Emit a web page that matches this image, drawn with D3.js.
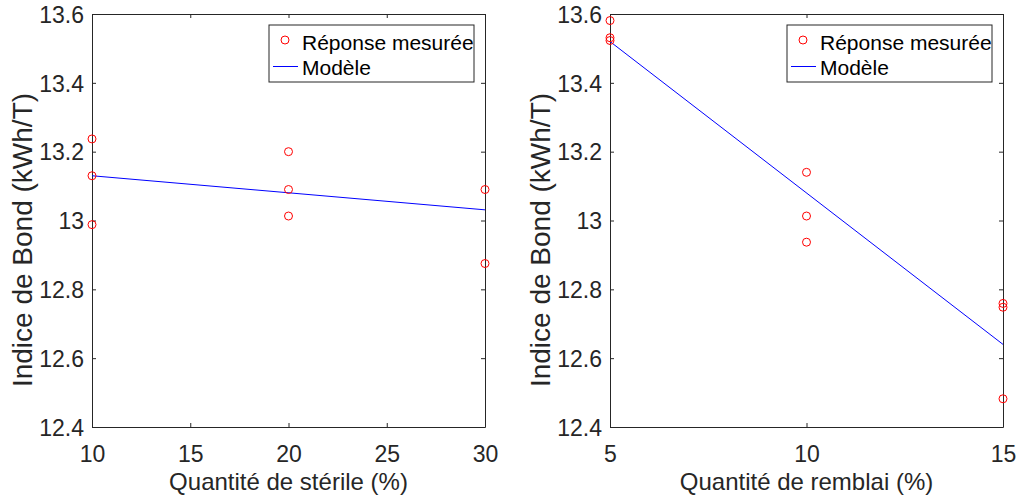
<!DOCTYPE html>
<html>
<head>
<meta charset="utf-8">
<script src="https://cdn.jsdelivr.net/npm/d3@7"></script>
<style>
  html, body { margin: 0; padding: 0; background: #fff; }
  svg { display: block; font-family: "Liberation Sans", Arial, Helvetica, sans-serif; }
</style>
</head>
<body>
<svg id="chart" width="1018" height="500"></svg>
<script>
// ---- Data ----
const leftX = [10, 10, 10, 20, 20, 20, 30, 30];
const leftY = [13.237, 13.130, 12.988, 13.200, 13.090, 13.013, 13.090, 12.875];
const leftModelX = [10, 30];
const leftModelY = [13.130, 13.031];

const rightX = [5, 5, 5, 10, 10, 10, 15, 15, 15];
const rightY = [13.581, 13.531, 13.523, 13.140, 13.013, 12.937, 12.759, 12.748, 12.482];
const rightModelX = [5, 15];
const rightModelY = [13.520, 12.640];

const yTicks = [12.4, 12.6, 12.8, 13, 13.2, 13.4, 13.6];
const leftXTicks = [10, 15, 20, 25, 30];
const rightXTicks = [5, 10, 15];

const yLabel = "Indice de Bond (kWh/T)";
const leftXLabel = "Quantité de stérile (%)";
const rightXLabel = "Quantité de remblai (%)";
const legendLabels = ["Réponse mesurée", "Modèle"];

// ---- Drawing ----
const svg = d3.select("#chart");
svg.append("rect").attr("width", 1018).attr("height", 500).attr("fill", "#fff");

const axisColor = "#262626";
const plotTop = 14, plotBottom = 427;

function panel(opts) {
  const x = d3.scaleLinear().domain(opts.xDomain).range([opts.x0, opts.x1]);
  const y = d3.scaleLinear().domain([12.4, 13.6]).range([plotBottom, plotTop]);
  const g = svg.append("g");

  const tickLen = 4;
  const axB = g.append("g").attr("transform", `translate(0,${plotBottom})`)
    .call(d3.axisBottom(x).tickValues(opts.xTicks).tickSizeInner(-tickLen).tickSizeOuter(0).tickPadding(0).tickFormat(d3.format("d")));
  const axT = g.append("g").attr("transform", `translate(0,${plotTop})`)
    .call(d3.axisTop(x).tickValues(opts.xTicks).tickSizeInner(-tickLen).tickSizeOuter(0).tickFormat(""));
  const axL = g.append("g").attr("transform", `translate(${opts.x0},0)`)
    .call(d3.axisLeft(y).tickValues(yTicks).tickSizeInner(-tickLen).tickSizeOuter(0).tickPadding(0).tickFormat(d => d3.format("~g")(d)));
  const axR = g.append("g").attr("transform", `translate(${opts.x1},0)`)
    .call(d3.axisRight(y).tickValues(yTicks).tickSizeInner(-tickLen).tickSizeOuter(0).tickFormat(""));

  [axB, axT, axL, axR].forEach(a => {
    a.select(".domain").attr("stroke", axisColor).attr("stroke-width", 1);
    a.selectAll(".tick line").attr("stroke", axisColor).attr("stroke-width", 1);
    a.selectAll("text").attr("fill", axisColor).attr("font-family", "Liberation Sans, Arial, sans-serif");
  });
  axB.selectAll("text").attr("font-size", 23).attr("y", 35).attr("dy", null);
  axL.selectAll("text").attr("font-size", 23).attr("x", -8).attr("dy", "0.36em");

  const line = d3.line().x(d => x(d[0])).y(d => y(d[1]));
  g.append("path")
    .datum(opts.mX.map((v, i) => [v, opts.mY[i]]))
    .attr("d", line).attr("fill", "none").attr("stroke", "#0000ff").attr("stroke-width", 1);

  g.selectAll("circle.pt").data(opts.px.map((v, i) => [v, opts.py[i]])).enter()
    .append("circle").attr("class", "pt")
    .attr("cx", d => x(d[0])).attr("cy", d => y(d[1])).attr("r", 4)
    .attr("fill", "none").attr("stroke", "#ff0000").attr("stroke-width", 1);

  g.append("text").text(opts.xLabel)
    .attr("x", (opts.x0 + opts.x1) / 2).attr("y", 490)
    .attr("text-anchor", "middle").attr("font-size", 24).attr("fill", axisColor);
  g.append("text").text(yLabel)
    .attr("transform", `translate(${opts.x0 - 60},240) rotate(-90)`)
    .attr("text-anchor", "middle").attr("font-size", 28).attr("fill", axisColor);

  const lx = opts.legX, ly = 25, lw = 205, lh = 57;
  const lg = g.append("g");
  lg.append("rect").attr("x", lx).attr("y", ly).attr("width", lw).attr("height", lh)
    .attr("fill", "#fff").attr("stroke", axisColor).attr("stroke-width", 1);
  lg.append("circle").attr("cx", lx + 16).attr("cy", ly + 15).attr("r", 4)
    .attr("fill", "none").attr("stroke", "#ff0000").attr("stroke-width", 1);
  lg.append("line").attr("x1", lx + 4).attr("x2", lx + 29).attr("y1", ly + 41.5).attr("y2", ly + 41.5)
    .attr("stroke", "#0000ff").attr("stroke-width", 1);
  lg.append("text").text(legendLabels[0]).attr("x", lx + 33).attr("y", ly + 24.5)
    .attr("font-size", 21).attr("fill", "#000");
  lg.append("text").text(legendLabels[1]).attr("x", lx + 33).attr("y", ly + 50)
    .attr("font-size", 21).attr("fill", "#000");
}

panel({ x0: 92, x1: 485, xDomain: [10, 30], xTicks: leftXTicks, px: leftX, py: leftY,
        mX: leftModelX, mY: leftModelY, xLabel: leftXLabel, legX: 269 });
panel({ x0: 610, x1: 1003, xDomain: [5, 15], xTicks: rightXTicks, px: rightX, py: rightY,
        mX: rightModelX, mY: rightModelY, xLabel: rightXLabel, legX: 787 });
</script>
</body>
</html>
